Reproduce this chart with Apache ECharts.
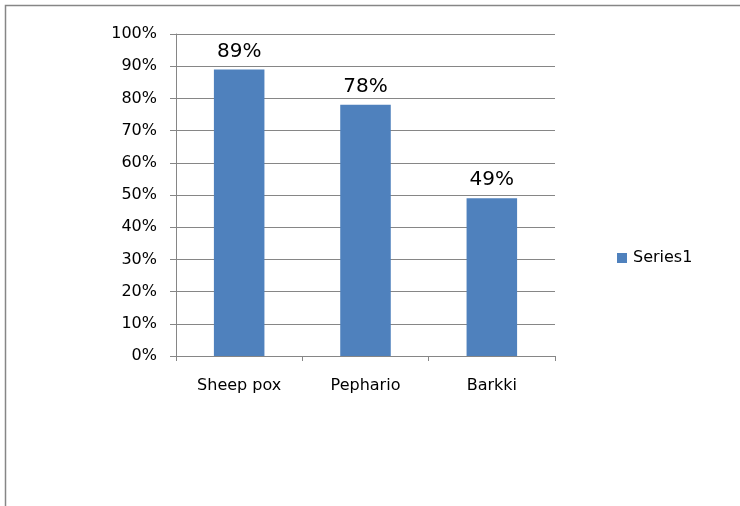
<!DOCTYPE html>
<html><head><meta charset="utf-8">
<script src="https://cdn.jsdelivr.net/npm/echarts@6/dist/echarts.min.js"></script>
<style>html,body{margin:0;padding:0;background:#fff}#c{width:740px;height:506px}</style>
</head><body><div id="c"></div>
<script>
const categories = ["Sheep pox", "Pephario", "Barkki"];
const values = [89, 78, 49];
const seriesName = "Series1";
const yTicks = [0, 10, 20, 30, 40, 50, 60, 70, 80, 90, 100];

const chart = echarts.init(document.getElementById('c'), null, {renderer: 'canvas'});
const font = '"DejaVu Sans", sans-serif';
chart.setOption({
  animation: false,
  backgroundColor: '#fff',
  graphic: [{
    type: 'rect', shape: {x: 5.5, y: 5.5, width: 800, height: 600},
    style: {fill: 'none', stroke: '#868686', lineWidth: 1.5}, silent: true
  }],
  grid: {left: 176, right: 185, top: 34, bottom: 150, containLabel: false},
  legend: {
    data: [seriesName], left: 612, top: 245, orient: 'vertical',
    icon: 'rect', itemWidth: 10, itemHeight: 10, itemGap: 4,
    textStyle: {fontFamily: font, fontSize: 16, color: '#000', padding: [0,0,0,1]}
  },
  xAxis: {
    type: 'category', data: categories,
    axisLine: {lineStyle: {color: '#868686', width: 1}},
    axisTick: {show: true, alignWithLabel: false, length: 5, lineStyle: {color: '#868686'}},
    axisLabel: {fontFamily: font, fontSize: 16, color: '#000', margin: 22}
  },
  yAxis: {
    type: 'value', min: yTicks[0], max: yTicks[yTicks.length-1], interval: 10,
    axisLine: {show: true, lineStyle: {color: '#868686', width: 1}},
    axisTick: {show: true, length: 6, lineStyle: {color: '#868686'}},
    splitLine: {lineStyle: {color: '#868686', width: 1}},
    axisLabel: {fontFamily: font, fontSize: 16, color: '#000', margin: 19, formatter: v => v + '%'}
  },
  series: [{
    name: seriesName, type: 'bar', data: values, barCategoryGap: '60%',
    itemStyle: {color: '#4F81BD'},
    label: {show: true, position: 'top', distance: 8, formatter: p => p.value + '%',
      fontFamily: font, fontSize: 20, color: '#000'}
  }]
});
</script></body></html>
